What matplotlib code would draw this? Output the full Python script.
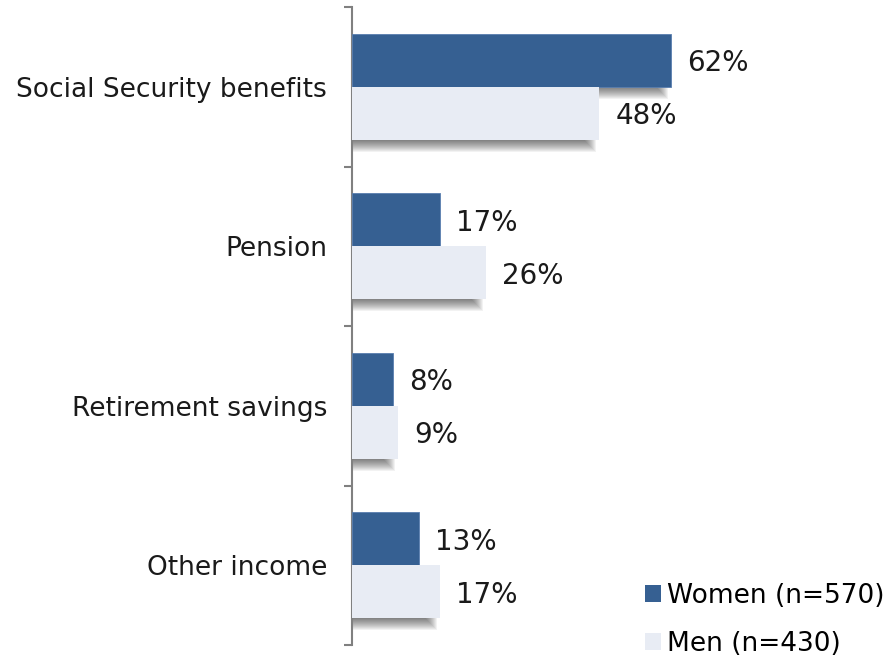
import matplotlib
matplotlib.use("Agg")
import matplotlib.pyplot as plt
from matplotlib.patches import Rectangle, Patch
import numpy as np

categories = ["Social Security benefits", "Pension", "Retirement savings", "Other income"]
women = [62, 17, 8, 13]
men = [48, 26, 9, 17]
series_labels = ["Women (n=570)", "Men (n=430)"]
colors = ["#366092", "#E8ECF4"]

W, H, DPI = 889, 656, 100
fig = plt.figure(figsize=(W / DPI, H / DPI), dpi=DPI)
plt.rcParams["font.family"] = ["DejaVu Sans"]
FS = 19

left, right, top, bottom = 352, 867, 7, 645
ax = fig.add_axes([left / W, (H - bottom) / H, (right - left) / W, (bottom - top) / H])
ax.set_xlim(0, 100)
ax.set_ylim(len(categories) - 0.5, -0.5)

bar_h = 1 / 3
y = np.arange(len(categories))
yw = y - bar_h / 2
ym = y + bar_h / 2

# pixel-to-data conversion for the soft drop shadows
px_x = 100 / (right - left)
px_y = len(categories) / (bottom - top)

def shadow(yc, v):
    for s in range(-7, 7):
        x1 = v - 9 * px_x + s * px_x
        y0 = yc - bar_h / 2 + 6 * px_y - s * px_y
        y1 = yc + bar_h / 2 + 6 * px_y + s * px_y
        ax.add_patch(Rectangle((0, y0), x1, y1 - y0, facecolor="black",
                               alpha=0.05, edgecolor="none", zorder=1))

for i in range(len(categories)):
    shadow(yw[i], women[i])
    shadow(ym[i], men[i])

ax.barh(yw, women, height=bar_h, color=colors[0], edgecolor="#5a7fb0", linewidth=0.6, zorder=3)
ax.barh(ym, men, height=bar_h, color=colors[1], edgecolor="none", zorder=3)

for i in range(len(categories)):
    for yc, v in ((yw[i], women[i]), (ym[i], men[i])):
        ax.annotate(f"{v}%", (v, yc), xytext=(16, 0), textcoords="offset pixels",
                    va="center_baseline", ha="left", fontsize=20, color="#1a1a1a")

for sp in ("top", "right", "bottom"):
    ax.spines[sp].set_visible(False)
ax.spines["left"].set_color("#808080")
ax.spines["left"].set_linewidth(1.5)
ax.set_xticks([])
ax.set_yticks(np.arange(-0.5, len(categories) + 0.5, 1))
ax.set_yticklabels([])
ax.tick_params(axis="y", which="major", length=5.5, width=1.5, color="#808080", direction="out")
ax.set_yticks(y, minor=True)
ax.set_yticklabels(categories, minor=True, fontsize=FS, color="#1a1a1a",
                   va="center_baseline")
ax.tick_params(axis="y", which="minor", length=0, pad=18)

handles = [Patch(facecolor=c, edgecolor="none") for c in colors]
fig.legend(handles, series_labels, loc="upper left",
           bbox_to_anchor=(645 / W, 1 - 583 / H), frameon=False, fontsize=FS,
           handlelength=0.6, handleheight=0.6, handletextpad=0.25,
           labelspacing=0.82, borderpad=0, borderaxespad=0)

fig.savefig("out.png", dpi=DPI)
